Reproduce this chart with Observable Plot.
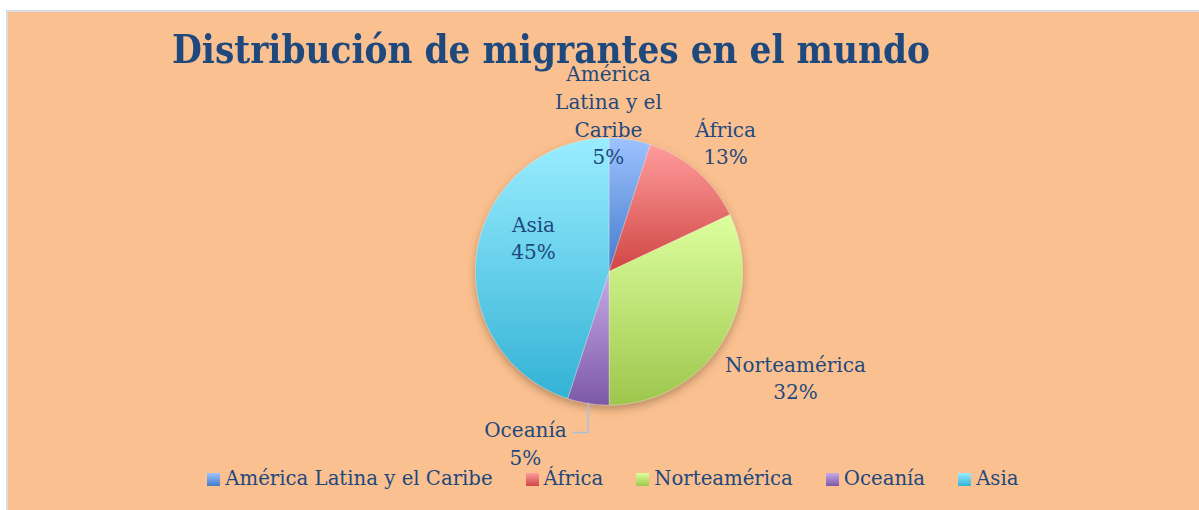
<!DOCTYPE html>
<html>
<head>
<meta charset="utf-8">
<script src="https://cdn.jsdelivr.net/npm/d3@7"></script>
<script src="https://cdn.jsdelivr.net/npm/@observablehq/plot@0.6"></script>
<style>
  html, body { margin: 0; padding: 0; background: #ffffff; }
  #frame {
    position: absolute; left: 6px; top: 10px; width: 1193px; height: 500px;
    box-sizing: border-box; background: #FAC090;
    border-left: 2px solid #D5DCE5; border-top: 2px solid #D5DCE5;
    overflow: hidden;
  }
  #chart { position: absolute; left: 0; top: 0; }
  #title {
    position: absolute; left: 164px; top: 18.3px; margin: 0;
    font-family: "DejaVu Serif", serif; font-weight: bold; font-size: 39px; line-height: 39px;
    color: #1F497D; white-space: nowrap; transform-origin: 0 0;
  }
  #legend {
    position: absolute; left: 199.3px; top: 455px; height: 24px;
    display: flex; align-items: center; white-space: nowrap;
    font-family: "DejaVu Serif", serif; font-size: 19.7px; line-height: 24px; color: #1F497D;
  }
  #legend .item { display: flex; align-items: center; margin-right: 33px; }
  #legend .item:last-child { margin-right: 0; }
  #legend .sw { width: 13px; height: 13px; margin-right: 5px; }
</style>
</head>
<body>
<div id="frame">
  <div id="chart"></div>
  <div id="title">Distribución de migrantes en el mundo</div>
  <div id="legend"></div>
</div>
<script>
// ---- data ----
const categories = ["América Latina y el Caribe", "África", "Norteamérica", "Oceanía", "Asia"];
const labelNames = ["América\nLatina y el\nCaribe", "África", "Norteamérica", "Oceanía", "Asia"];
const shares = [5, 13, 32, 5, 45];
const gradTop = ["#9DC3FF", "#FF9C9C", "#DDFF9E", "#C7ABE8", "#9AEDFF"];
const gradBottom = ["#467ACB", "#D04644", "#9EC64C", "#7C58A6", "#33B2D5"];

// ---- layout (pixels) ----
const W = 1191, H = 453;
const R = 133.5, CX = 600.5, CY = 259;
// label placement relative to slice mid angle (deg offset, radius in pie radii)
const labelPlacement = [
  {dA: -9.2, r: 1.18},
  {dA: 0.5, r: 1.308},
  {dA: -3.0, r: 1.603},
  {dA: 17.1, r: 1.422},
  {dA: 15.8, r: 0.623}
];

const arcs = d3.pie().sort(null).value(d => d)(shares);

// slice polygons in unit coordinates (y up, angle clockwise from 12 o'clock)
const polys = [];
arcs.forEach((a, i) => {
  const n = Math.max(2, Math.ceil((a.endAngle - a.startAngle) / (Math.PI / 360)));
  polys.push({cat: categories[i], fill: `url(#grad${i})`, x: 0, y: 0});
  for (let k = 0; k <= n; k++) {
    const t = a.startAngle + (a.endAngle - a.startAngle) * k / n;
    polys.push({cat: categories[i], fill: `url(#grad${i})`, x: Math.sin(t), y: Math.cos(t)});
  }
  polys.push({cat: categories[i], fill: `url(#grad${i})`, x: 0, y: 0});
});

const labels = arcs.map((a, i) => {
  const mid = (a.startAngle + a.endAngle) / 2 + labelPlacement[i].dA * Math.PI / 180;
  const r = labelPlacement[i].r;
  return {text: `${labelNames[i]}\n${shares[i]}%`, x: r * Math.sin(mid), y: r * Math.cos(mid)};
});

// leader line for Oceanía
const oc = arcs[3];
const ocMid = (oc.startAngle + oc.endAngle) / 2;
const ocStart = {x: Math.sin(ocMid), y: Math.cos(ocMid)};
const leader = [
  ocStart,
  {x: ocStart.x, y: -1.206},
  {x: -0.273, y: -1.206}
];

function defs() {
  const g = d3.create("svg:defs");
  gradTop.forEach((c, i) => {
    const lg = g.append("linearGradient").attr("id", `grad${i}`)
      .attr("x1", 0).attr("y1", 0).attr("x2", 0).attr("y2", 1);
    lg.append("stop").attr("offset", "0%").attr("stop-color", c);
    lg.append("stop").attr("offset", "100%").attr("stop-color", gradBottom[i]);
  });
  const f = g.append("filter").attr("id", "shadow")
    .attr("x", "-20%").attr("y", "-20%").attr("width", "140%").attr("height", "140%");
  f.append("feDropShadow").attr("dx", 0).attr("dy", 4).attr("stdDeviation", 4)
    .attr("flood-color", "#6b4a2a").attr("flood-opacity", 0.45);
  return g.node();
}

const plot = Plot.plot({
  width: W, height: H,
  margin: 0,
  style: {background: "transparent", overflow: "visible"},
  x: {domain: [-CX / R, (W - CX) / R], axis: null},
  y: {domain: [-(H - CY) / R, CY / R], axis: null},
  color: {type: "identity"},
  marks: [
    defs,
    Plot.line(polys, {x: "x", y: "y", z: "cat", fill: "fill", stroke: "#ffffff",
      strokeOpacity: 0.35, strokeWidth: 0.75, curve: "linear"}),
    Plot.line(leader, {x: "x", y: "y", stroke: "#A9C0E0", strokeWidth: 1.5, curve: "linear"}),
    Plot.text(labels, {x: "x", y: "y", text: "text", fill: "#1F497D", fontSize: 20,
      fontFamily: "DejaVu Serif", lineHeight: 1.38, lineAnchor: "middle", textAnchor: "middle"})
  ]
});
// shadow under the slices
const lineGroups = plot.querySelectorAll('g[aria-label="line"]');
if (lineGroups.length) lineGroups[0].setAttribute("filter", "url(#shadow)");
document.getElementById("chart").appendChild(plot);

// legend
const legend = d3.select("#legend");
categories.forEach((c, i) => {
  const it = legend.append("div").attr("class", "item");
  it.append("div").attr("class", "sw")
    .style("background", `linear-gradient(to bottom, ${gradTop[i]}, ${gradBottom[i]})`);
  it.append("span").text(c);
});

// fit title width
const title = document.getElementById("title");
const tw = title.getBoundingClientRect().width;
title.style.transform = `scaleX(${758 / tw})`;
</script>
</body>
</html>
